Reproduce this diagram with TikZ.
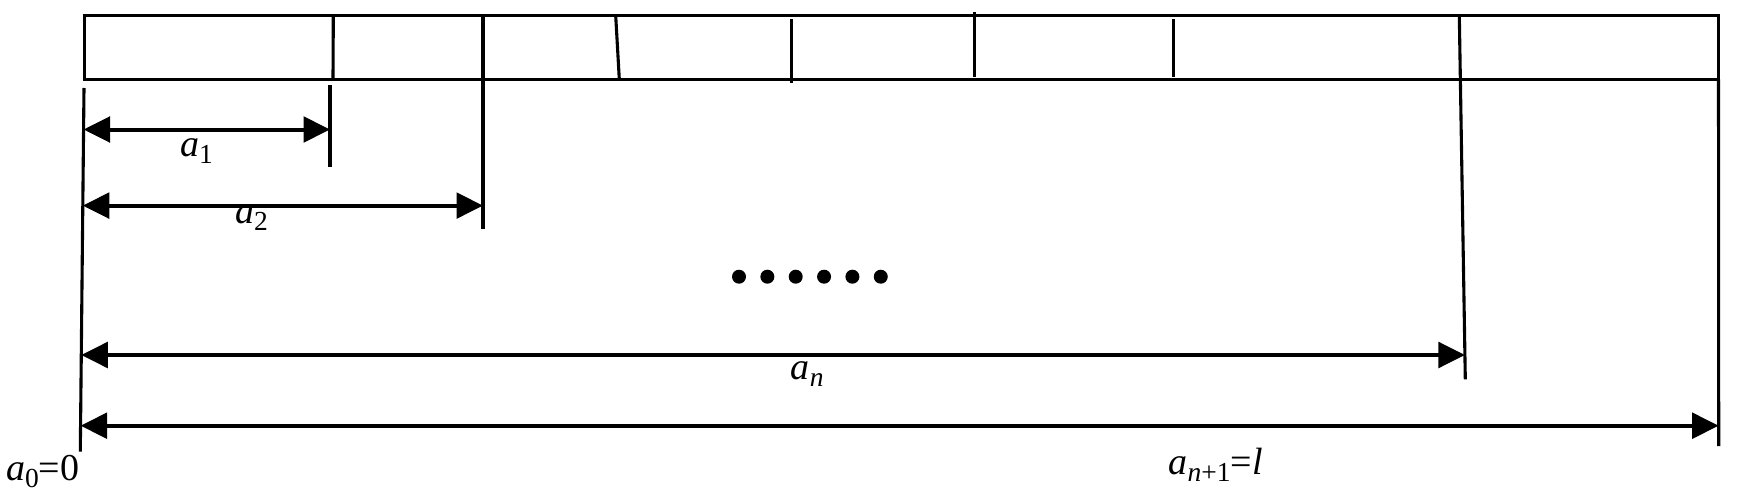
\documentclass[tikz,border=0pt]{standalone}
\usepackage{fontspec}
\setmainfont{Liberation Serif}
\usetikzlibrary{arrows.meta}
\newcommand\mysub[1]{\raisebox{-7pt}{\fontsize{27.5}{27.5}\selectfont #1}}
\begin{document}
\begin{tikzpicture}[x=1pt,y=-1pt,
  frame/.style={line width=3.6pt},
  tick/.style={line width=3.1pt},
  dimline/.style={line width=4pt,{Triangle[length=26.5pt,width=25.5pt]}-{Triangle[length=26.5pt,width=25.5pt]}},
  lbl/.style={font=\fontsize{38}{42}\selectfont, inner sep=0pt, anchor=base west}]
\useasboundingbox (0,0) rectangle (1750,495);
% strip
\draw[frame] (84.3,15.7) rectangle (1718.5,79.3);
\draw[tick] (333.3,15.7) -- (333,79.3);
\draw[tick] (483,15.7) -- (483,229);
\draw[tick] (615.7,15.7) -- (619.3,79.3);
\draw[tick] (791.3,19) -- (791.3,83);
\draw[tick] (974.7,12.3) -- (974.7,77.3);
\draw[tick] (1173.3,19) -- (1173.3,77);
\draw[tick] (1459.3,15.7) -- (1465.3,379.3);
\draw[tick] (1718.5,79.3) -- (1718.7,446);
\draw[tick] (84,88) -- (80.3,451.7);
\draw[tick] (330,85) -- (330,167);
% dimension ends
\coordinate (L1) at (83.6,129.5);
\coordinate (R1) at (330,129.5);
\coordinate (L2) at (82.8,205.6);
\coordinate (R2) at (483,205.6);
\coordinate (Ln) at (81.3,355);
\coordinate (Rn) at (1464.9,355);
\coordinate (Lm) at (80.6,425.7);
\coordinate (Rm) at (1718.6,425.7);
\draw[dimline] (L1) -- (R1);
\draw[dimline] (L2) -- (R2);
\draw[dimline] (Ln) -- (Rn);
\draw[dimline] (Lm) -- (Rm);
% labels
\node[lbl] (t1) at (180,156) {\textit{a}\mysub{1}};
\node[lbl] (t2) at (235,223) {\textit{a}\mysub{2}};
\node[lbl] (tn) at (790.7,379) {\textit{a}\mysub{\textit{n}}};
\node[lbl] (tm) at (1168.5,474) {\textit{a}\mysub{\textit{n}+1}=\textit{l}};
\node[lbl] (t0) at (6,480.7) {\textit{a}\mysub{0}=0};
% dots
\foreach \i in {0,...,5} \fill (739+\i*28.35,276.7) circle (7);
\end{tikzpicture}
\end{document}
